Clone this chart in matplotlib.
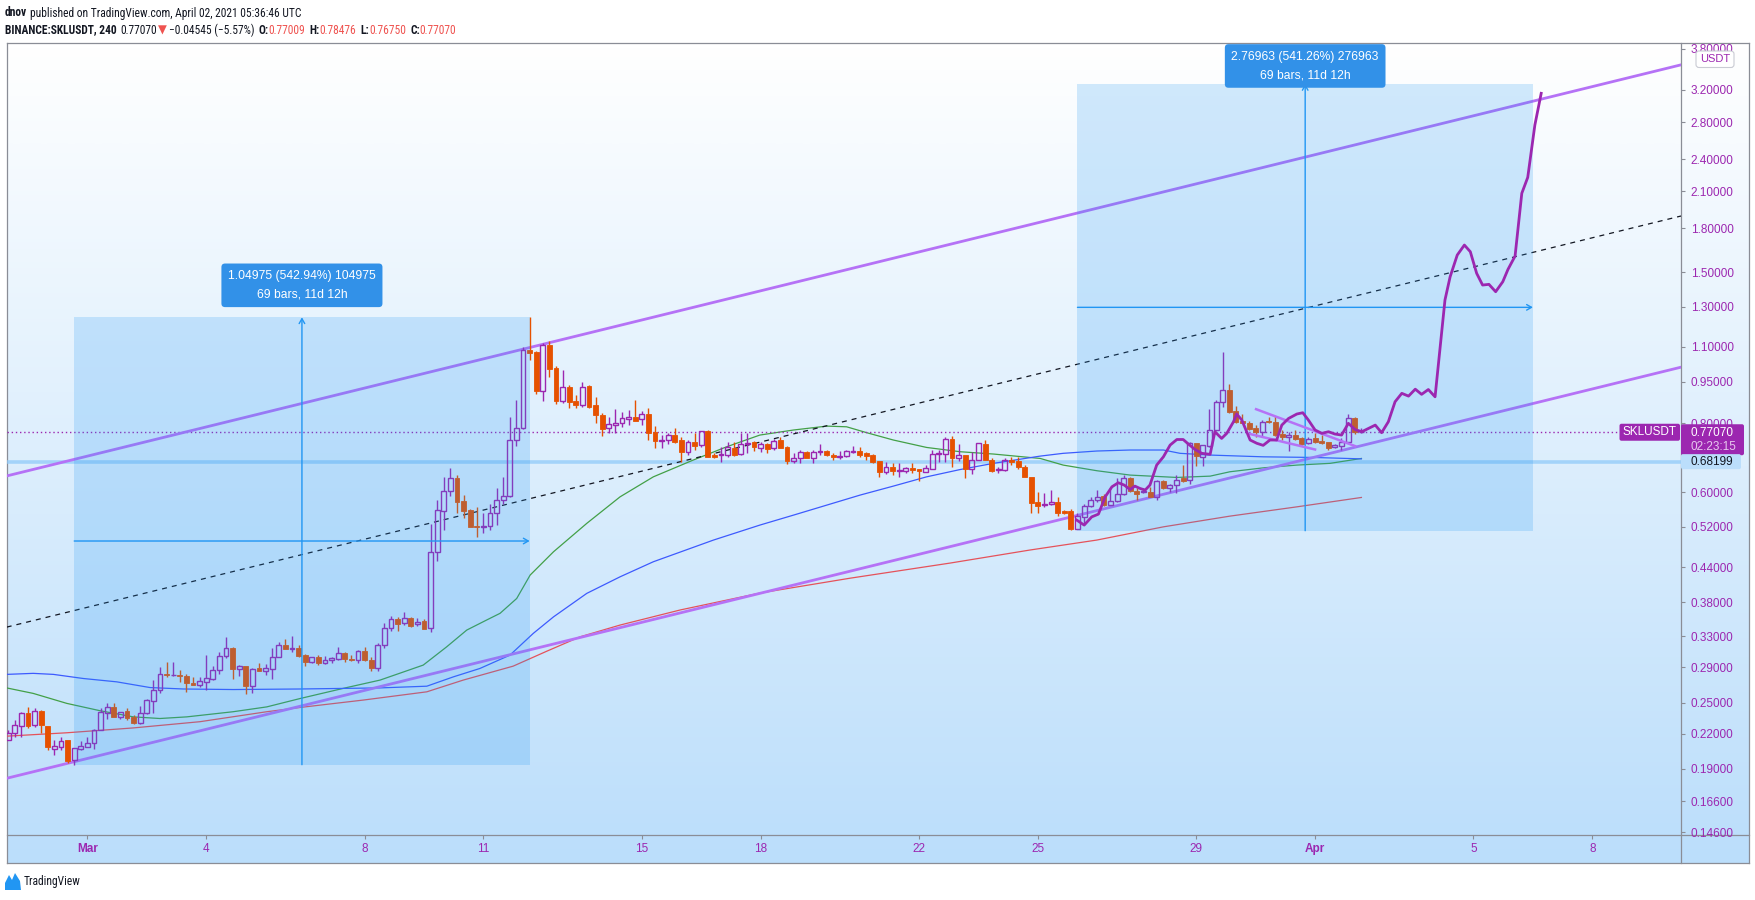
import matplotlib
matplotlib.use("Agg")
import matplotlib.pyplot as plt
import numpy as np
import pandas as pd
from matplotlib import font_manager as fm
from matplotlib.patches import Rectangle, FancyBboxPatch, Polygon
from matplotlib.colors import LinearSegmentedColormap
from matplotlib.ticker import NullLocator

plt.rcParams['font.family'] = ['Liberation Sans', 'DejaVu Sans']

W, H = 1756, 900

# 4h candles BINANCE:SKLUSDT, first bar 2021-02-27 00:00 UTC
opens = [
    .2147, .2208, .2273, .2394, .2277, .2414, .2270, .2068, .2077, .2142,
    .1975, .2064, .2082, .2113, .2238, .2394, .2453, .2359, .2414, .2359,
    .2296, .2400, .2523, .2643, .2818, .2803, .2812, .2794, .2720, .2693,
    .2725, .2760, .2866, .3035, .3140, .2878, .2913, .2684, .2885, .2858,
    .2880, .3030, .3179, .3129, .3148, .3045, .2967, .3025, .2947, .2994,
    .3003, .3075, .3005, .2985, .3102, .2994, .2892, .3175, .3407, .3541,
    .3481, .3561, .3466, .3514, .3407, .4688, .5565, .6042, .6359, .5789,
    .5576, .5220, .5200, .5210, .5500, .5825, .5905, .7462, .7829, 1.0873,
    1.0773, .9160, 1.1076, 1.0075, .8787, .9286, .8760, .8640, .9335, .8630,
    .8268, .7829, .7930, .7998, .8148, .8197, .8127, .8303, .7704, .7440,
    .7462, .7617, .7462, .7107, .7390, .7316, .7756, .7009, .7000, .7009,
    .7225, .7030, .7328, .7409, .7205, .7338, .7205, .7462, .7254, .6838,
    .6911, .7099, .6929, .7089, .7128, .7009, .6940, .6970, .7089, .7128,
    .7060, .7009, .6846, .6540, .6657, .6567, .6550, .6629, .6609, .6540,
    .6620, .7030, .7030, .7478, .6929, .7009, .6617, .6881, .7338, .6881,
    .6586, .6586, .6881, .6846, .6657, .6402, .5757, .5684, .5716, .5757,
    .5553, .5553, .5164, .5420, .5668, .5813, .5917, .5692, .5789, .5959,
    .6359, .6042, .6002, .6017, .5891, .6292, .6100, .6179, .6359, .6318,
    .7360, .6958, .7276, .7795, .8750, .9206, .8429, .8085, .7998, .7829,
    .7704, .8085, .8051, .7640, .7562, .7617, .7520, .7360, .7511, .7440,
    .7409, .7235, .7276, .7409, .8162, .77009]
highs = [
    .2238, .2333, .2405, .2453, .2446, .2427, .2275, .2147, .2171, .2147,
    .2075, .2136, .2171, .2242, .2443, .2502, .2495, .2408, .2443, .2377,
    .2467, .2540, .2749, .2897, .2967, .2967, .2866, .2818, .2779, .2779,
    .3050, .2917, .3093, .3291, .3150, .2926, .2918, .2885, .2947, .2938,
    .3148, .3224, .3268, .3300, .3179, .3063, .3024, .3050, .3037, .3028,
    .3156, .3093, .3050, .3115, .3156, .3020, .3211, .3481, .3587, .3567,
    .3644, .3576, .3552, .3537, .5260, .5825, .6386, .6629, .6449, .5934,
    .5612, .5636, .5500, .5716, .6100, .6402, .8218, .8813, 1.0967, 1.2431,
    1.0790, 1.1156, 1.1278, 1.0148, .9984, .9378, .8996, .9509, .9378, .8931,
    .8338, .8218, .8472, .8394, .8454, .8813, .8418, .8509, .7906, .7617,
    .7692, .7829, .7543, .7462, .7692, .7745, .7779, .7078, .7235, .7390,
    .7390, .7692, .7672, .7430, .7400, .7360, .7478, .7562, .7276, .7078,
    .7158, .7137, .7158, .7338, .7158, .7060, .7137, .7173, .7276, .7254,
    .7089, .7039, .6850, .6817, .6789, .6789, .6675, .6772, .6615, .6723,
    .7173, .7173, .7543, .7585, .7338, .7015, .7107, .7365, .7462, .6911,
    .6657, .6911, .6958, .6958, .6723, .6405, .6017, .5992, .6060, .5876,
    .5588, .5612, .5500, .5716, .5876, .6060, .5959, .6100, .6359, .6449,
    .6386, .6100, .6100, .6142, .6331, .6318, .6212, .6449, .6723, .7409,
    .7365, .7310, .8472, .8813, 1.0773, .9418, .8593, .8314, .8085, .7940,
    .8109, .8197, .8243, .7795, .7724, .7779, .7543, .7562, .7692, .7617,
    .7412, .7338, .7511, .8314, .8197, .78476]
lows = [
    .2142, .2171, .2165, .2253, .2263, .2202, .2059, .2012, .2055, .1949,
    .1933, .2055, .2077, .2064, .2233, .2343, .2353, .2343, .2333, .2289,
    .2289, .2387, .2400, .2601, .2779, .2795, .2729, .2618, .2688, .2672,
    .2643, .2745, .2818, .3008, .2767, .2794, .2593, .2607, .2855, .2806,
    .2767, .3025, .3122, .3093, .3024, .2913, .2955, .2926, .2945, .2947,
    .2988, .2967, .2972, .2947, .2979, .2858, .2858, .3135, .3375, .3375,
    .3456, .3431, .3445, .3393, .3361, .4516, .5142, .5909, .5514, .5384,
    .5192, .4988, .5061, .5142, .5238, .5716, .5895, .7276, .7820, 1.0408,
    .9034, .8787, .9705, .8667, .8714, .8509, .8518, .8567, .8509, .8018,
    .7585, .7672, .7692, .7883, .7940, .8080, .7940, .7462, .7205, .7205,
    .7338, .7378, .6800, .7009, .7173, .7254, .6950, .6930, .6817, .6958,
    .6985, .7005, .7060, .7137, .7107, .7078, .7173, .7205, .6752, .6795,
    .6795, .6911, .6795, .7018, .6989, .6866, .6885, .6940, .7060, .6958,
    .6866, .6795, .6386, .6477, .6449, .6402, .6496, .6496, .6300, .6535,
    .6605, .6820, .6817, .6675, .6838, .6359, .6468, .6866, .6866, .6540,
    .6514, .6567, .6723, .6605, .6386, .5500, .5500, .5651, .5692, .5437,
    .5483, .5142, .5160, .5289, .5651, .5772, .5668, .5690, .5772, .5934,
    .6017, .5825, .5979, .5876, .5813, .6090, .6017, .5992, .6274, .6212,
    .6694, .6694, .7254, .7779, .8567, .8359, .8018, .7995, .7779, .7562,
    .7562, .7998, .7585, .7462, .7137, .7462, .7307, .7338, .7378, .7338,
    .7173, .7205, .7173, .7378, .7650, .76750]
closes = [
    .2208, .2280, .2400, .2270, .2414, .2277, .2077, .2088, .2136, .1965,
    .2071, .2088, .2115, .2238, .2404, .2453, .2359, .2404, .2349, .2302,
    .2400, .2535, .2643, .2815, .2803, .2812, .2794, .2718, .2692, .2738,
    .2771, .2866, .3037, .3135, .2876, .2913, .2684, .2880, .2858, .2885,
    .3020, .3179, .3126, .3148, .3037, .2967, .3020, .2955, .2988, .3011,
    .3072, .3003, .2988, .3102, .2994, .2888, .3179, .3407, .3537, .3470,
    .3552, .3445, .3504, .3401, .4688, .5576, .6042, .6359, .5772, .5560,
    .5200, .5192, .5215, .5500, .5825, .5909, .7462, .7829, 1.0873, 1.0728,
    .9160, 1.1076, 1.0019, .8787, .9286, .8750, .8640, .9310, .8545, .8268,
    .7815, .7964, .7998, .8162, .8197, .8085, .8303, .7692, .7440, .7462,
    .7617, .7409, .7107, .7409, .7285, .7737, .6958, .6940, .7048, .7235,
    .7009, .7328, .7360, .7235, .7328, .7195, .7440, .7225, .6846, .6929,
    .7099, .6929, .7099, .7118, .7009, .6940, .6979, .7118, .7128, .7009,
    .6989, .6817, .6531, .6657, .6567, .6586, .6637, .6578, .6559, .6629,
    .7039, .7060, .7478, .6929, .7009, .6617, .6881, .7360, .6881, .6567,
    .6620, .6866, .6817, .6657, .6402, .5748, .5675, .5716, .5757, .5514,
    .5514, .5164, .5437, .5675, .5825, .5891, .5692, .5789, .5959, .6359,
    .6042, .5959, .6042, .5891, .6300, .6116, .6179, .6331, .6300, .7360,
    .6989, .7307, .7795, .8750, .9206, .8384, .8051, .7998, .7815, .7704,
    .8031, .8031, .7617, .7562, .7617, .7488, .7338, .7478, .7409, .7378,
    .7205, .7298, .7409, .8162, .7701, .77070]

# moving averages, sampled (days since 2021-03-01 00:00 UTC)
ma_green_days = [-2.04, -1.37, -0.52, 0.32, 1.16, 1.83, 2.51, 3.68, 4.53, 5.37, 6.55, 7.39,
                 8.48, 9.07, 9.58, 10.08, 10.42, 10.84, 11.18, 11.77, 12.61, 13.45, 14.29,
                 15.30, 16.14, 16.98, 17.83, 18.67, 19.17, 19.68, 20.35, 21.19, 22.04,
                 22.88, 24.06, 24.64, 25.49, 26.33, 27.51, 28.35, 28.85, 29.69, 30.54,
                 31.38, 32.17]
ma_green = [.2661, .2601, .2495, .2420, .2359, .2343, .2359, .2410, .2459, .2546, .2665,
            .2749, .2926, .3156, .3385, .3529, .3629, .3860, .4255, .4688, .5276, .5891,
            .6402, .6866, .7254, .7617, .7779, .7906, .7884, .7692, .7462, .7235, .7107,
            .7039, .6911, .6723, .6567, .6449, .6386, .6421, .6539, .6646, .6723, .6772,
            .6911]
ma_blue_days = [-2.04, -1.37, -0.86, -0.10, 0.74, 1.58, 2.42, 3.68, 5.37, 7.39, 8.57, 9.24,
                9.91, 10.67, 11.26, 11.77, 12.61, 13.45, 14.29, 15.81, 16.98, 17.83, 18.67,
                19.51, 20.35, 21.19, 22.04, 22.88, 24.06, 24.64, 25.49, 26.33, 27.17, 27.59,
                28.35, 29.69, 30.96, 32.17]
ma_blue = [.2815, .2827, .2815, .2767, .2729, .2665, .2649, .2643, .2649, .2661, .2680,
           .2786, .2885, .3050, .3339, .3576, .3943, .4224, .4497, .4922, .5238, .5460,
           .5692, .5934, .6160, .6402, .6600, .6772, .6979, .7060, .7128, .7158, .7158,
           .7060, .7009, .6958, .6940, .6899]
ma_red_days = [-2.04, -0.52, 1.16, 2.84, 4.53, 5.37, 6.97, 8.57, 9.49, 10.75, 11.6, 12.44,
               13.45, 14.97, 16.98, 19.26, 21.78, 23.80, 25.49, 27.17, 28.85, 30.54, 32.17]
ma_red = [.2177, .2208, .2253, .2312, .2410, .2453, .2530, .2618, .2749, .2913, .3100,
          .3291, .3456, .3680, .3948, .4200, .4472, .4722, .4922, .5200, .5437, .5651, .5876]

# projected path (bars pattern)
path_days = [24.98, 25.17, 25.36, 25.53, 25.70, 25.87, 26.03, 26.18, 26.33, 26.45, 26.58,
             26.71, 26.83, 27.00, 27.17, 27.34, 27.51, 27.67, 27.80, 27.97, 28.14, 28.35,
             28.47, 28.64, 28.77, 28.94, 29.02, 29.15, 29.36, 29.53, 29.69, 29.86, 30.03,
             30.16, 30.33, 30.54, 30.69, 30.83, 31.00, 31.17, 31.34, 31.50, 31.67, 31.84,
             32.01, 32.18, 32.52, 32.68, 32.85, 33.02, 33.19, 33.36, 33.53, 33.69, 33.86,
             34.03, 34.28, 34.41, 34.59, 34.77, 34.92, 35.08, 35.23, 35.39, 35.56, 35.74,
             35.87, 36.05, 36.22, 36.37, 36.55, 36.71]
path_prices = [.5349, .5238, .5420, .5483, .5891, .6142, .6247, .6187, .6073, .6160, .6100,
               .6060, .6187, .6723, .6958, .7307, .7478, .7478, .7338, .7173, .7060, .7030,
               .7724, .7511, .7672, .8051, .8314, .8109, .7462, .7360, .7298, .7462, .7462,
               .7940, .8162, .8314, .8359, .8109, .7779, .7672, .7724, .7650, .7617, .7998,
               .7795, .7724, .7940, .7692, .8051, .8750, .9061, .8957, .9219, .9023, .9206,
               .8931, 1.3359, 1.4713, 1.6106, 1.6790, 1.6331, 1.4928, 1.4216, 1.4258, 1.3828,
               1.4415, 1.5167, 1.6037, 2.0824, 2.2247, 2.7664, 3.156]

# channel anchors (day, price)
channel_upper = [(-2.0, 0.6436), (32.0, 2.546)]
channel_lower = [(-2.0, 0.1830), (32.0, 0.7239)]
channel_mid = [(-2.0, 0.3432), (32.0, 1.3576)]
wedge_upper_days, wedge_upper = [29.51, 32.01], [.8483, .7276]
wedge_lower_days, wedge_lower = [29.36, 31.00], [.7650, .7173]

# date & price ranges
range_start = [-0.333, 25.0]
range_end = [11.167, 36.5]
range_low = [0.19334, 0.51170]
range_high = [1.24309, 3.28133]
range_text = ["1.04975 (542.94%) 104975\n69 bars, 11d 12h",
              "2.76963 (541.26%) 276963\n69 bars, 11d 12h"]

last_price = 0.77070
level_price = 0.68199

price_ticks = [3.8, 3.2, 2.8, 2.4, 2.1, 1.8, 1.5, 1.3, 1.1, 0.95, 0.80, 0.60, 0.52, 0.44,
               0.38, 0.33, 0.29, 0.25, 0.22, 0.19, 0.166, 0.146]
date_ticks = [0, 3, 7, 10, 14, 17, 21, 24, 28, 31, 35, 38]
date_labels = ['Mar', '4', '8', '11', '15', '18', '22', '25', '29', 'Apr', '5', '8']

UP = '#9c27b0'
DOWN = '#e65100'
CHAN = '#b572f6'
DARK = '#131722'
RED = '#ef5350'
BLUE = '#2196f3'
FRAME = '#8a8d96'

bar_times = pd.date_range('2021-02-27 00:00', periods=len(opens), freq='4h')
bar_days = ((bar_times - pd.Timestamp('2021-03-01')) / pd.Timedelta(days=1)).values


def narrow_font():
    # a condensed sans face for the header, if one is installed
    wanted = ['Liberation Sans Narrow', 'Roboto Condensed', 'DejaVu Sans', 'Open Sans',
              'Noto Sans', 'Lato', 'Inter']
    found = {}
    for f in fm.fontManager.ttflist:
        if 'ondensed' in f.name or 'Narrow' in f.name:
            found.setdefault(f.name, 'normal')
        elif str(f.stretch) in ('condensed', 'semi-condensed', 'extra-condensed'):
            found.setdefault(f.name, str(f.stretch))
    for name in wanted:
        if name in found:
            return name, found[name]
    return 'Liberation Sans', 'normal'


HEAD_NAME, HEAD_STRETCH = narrow_font()
HEAD = [HEAD_NAME, 'DejaVu Sans']

fig = plt.figure(figsize=(W / 100, H / 100), dpi=100)
fig.patch.set_facecolor('white')

# background gradient + frame
bg = fig.add_axes([0, 0, 1, 1], zorder=0)
cmap = LinearSegmentedColormap.from_list('tvbg', ['#ffffff', '#bbdefb'])
bg.imshow(np.linspace(0, 1, 256).reshape(-1, 1), cmap=cmap, aspect='auto',
          extent=[6.7, 1749, 863.3, 43.3], interpolation='bilinear')
bg.set_xlim(0, W)
bg.set_ylim(H, 0)
bg.axis('off')
for xs, ys in [([6.7, 1749], [43.3, 43.3]), ([6.7, 1749], [863.3, 863.3]),
               ([6.7, 6.7], [43.3, 863.3]), ([1749, 1749], [43.3, 863.3]),
               ([1681, 1681], [43.3, 863.3]), ([6.7, 1749], [835, 835])]:
    bg.plot(xs, ys, color=FRAME, lw=0.9)

ax = fig.add_axes([6.7 / W, (H - 835) / H, (1681 - 6.7) / W, (835 - 43.3) / H], zorder=1)
ax.patch.set_alpha(0)
ax.set_yscale('log')
ax.set_xlim(-2.038, 40.24)
ax.set_ylim(0.14432, 3.886)
for s in ax.spines.values():
    s.set_visible(False)

# moving averages
ax.plot(ma_green_days, ma_green, color='#43a047', lw=0.9, zorder=2)
ax.plot(ma_blue_days, ma_blue, color='#3d5afe', lw=0.9, zorder=2)
ax.plot(ma_red_days, ma_red, color='#e5525a', lw=0.9, zorder=2)

# horizontal levels
ax.axhline(level_price, color='#90caf9', lw=2.6, alpha=0.75, zorder=1.5)
ax.axhline(last_price, color=UP, lw=1.0, ls=(0, (1, 2)), zorder=2)

# channel
ax.axline(*channel_upper, color=CHAN, lw=2.0, zorder=2.5)
ax.axline(*channel_lower, color=CHAN, lw=2.0, zorder=2.5)
ax.axline(*channel_mid, color=DARK, lw=0.9, ls=(0, (4, 4)), zorder=2.5)

# candles
o = np.array(opens); h = np.array(highs); l = np.array(lows); c = np.array(closes)
up = c >= o
top = np.maximum(o, c)
bot = np.minimum(o, c)
bw = 0.74 / 6
for mask, col in [(up, UP), (~up, DOWN)]:
    ax.vlines(bar_days[mask], top[mask], h[mask], color=col, lw=1.0, zorder=3)
    ax.vlines(bar_days[mask], l[mask], bot[mask], color=col, lw=1.0, zorder=3)
for t, b, tp, is_up in zip(bar_days, bot, top, up):
    if is_up:
        ax.add_patch(Rectangle((t - bw / 2, b), bw, tp - b, fc='none', ec=UP, lw=1.0, zorder=3))
    else:
        ax.add_patch(Rectangle((t - bw / 2, b), bw, tp - b, fc=DOWN, ec=DOWN, lw=0.6, zorder=3))

# date & price range boxes
label_offsets = [32, 18]
for t0, t1, lo, hi, txt, off in zip(range_start, range_end, range_low, range_high,
                                    range_text, label_offsets):
    ax.add_patch(Rectangle((t0, lo), t1 - t0, hi - lo, fc=BLUE, alpha=0.2, ec='none', zorder=4))
    tm = (t0 + t1) / 2
    pm = np.sqrt(lo * hi)
    ax.annotate('', xy=(tm, hi), xytext=(tm, lo), zorder=4.5,
                arrowprops=dict(arrowstyle='->,head_length=0.35,head_width=0.2',
                                color=BLUE, lw=1, shrinkA=0, shrinkB=0))
    ax.annotate('', xy=(t1, pm), xytext=(t0, pm), zorder=4.5,
                arrowprops=dict(arrowstyle='->,head_length=0.35,head_width=0.2',
                                color=BLUE, lw=1, shrinkA=0, shrinkB=0))
    ax.annotate(txt, xy=(tm, hi), xytext=(0, off), textcoords='offset pixels',
                ha='center', va='center', color='white', fontsize=8.7, linespacing=1.7,
                zorder=8, annotation_clip=False,
                bbox=dict(boxstyle='round,pad=0.55,rounding_size=0.3', fc='#3291e8', ec='none'))

# wedge + projection
ax.plot(wedge_upper_days, wedge_upper, color=CHAN, lw=1.8, zorder=5)
ax.plot(wedge_lower_days, wedge_lower, color=CHAN, lw=1.8, zorder=5)
ax.plot(path_days, path_prices, color=UP, lw=2.0, zorder=6, solid_joinstyle='round')

# axes ticks
ax.yaxis.tick_right()
ax.set_yticks(price_ticks)
ax.set_yticklabels([f"{v:.5f}" for v in price_ticks])
ax.yaxis.set_minor_locator(NullLocator())
ax.tick_params(axis='y', which='major', direction='out', length=3, width=0.8,
               color=FRAME, labelcolor=UP, labelsize=8.5, pad=4)
ax.set_xticks(date_ticks)
ax.set_xticklabels(date_labels)
ax.tick_params(axis='x', direction='out', length=3, width=0.8, color=FRAME,
               labelcolor=UP, labelsize=8.5, pad=3)
for lab in ax.get_xticklabels():
    if lab.get_text() in ('Mar', 'Apr'):
        lab.set_fontweight('bold')

# overlay for price labels, header, footer
ov = fig.add_axes([0, 0, 1, 1], zorder=3)
ov.set_xlim(0, W)
ov.set_ylim(H, 0)
ov.axis('off')


def price_px(p):
    return H - ax.transData.transform((0, p))[1]


py = price_px(last_price)
ov.add_patch(FancyBboxPatch((1619.5, py - 8.5), 60.5, 17, boxstyle='round,pad=0,rounding_size=2',
                            fc=UP, ec='none'))
ov.text(1649.7, py, 'SKLUSDT', color='white', fontsize=8.5, ha='center', va='center')
ov.add_patch(FancyBboxPatch((1681, py - 8), 63, 31, boxstyle='round,pad=0,rounding_size=2',
                            fc=UP, ec='none'))
ov.text(1691, py + 0.5, f"{last_price:.5f}", color='white', fontsize=8.5, va='center')
ov.text(1691, py + 14.5, '02:23:15', color='#e7c9ee', fontsize=8.5, va='center')

py2 = price_px(level_price)
ov.add_patch(FancyBboxPatch((1681, py2 - 7.5), 60, 15, boxstyle='round,pad=0,rounding_size=2',
                            fc='#bbdefb', ec='none'))
ov.text(1691, py2, f"{level_price:.5f}", color=DARK, fontsize=8.5, va='center')

ov.add_patch(FancyBboxPatch((1696, 51), 38, 16.5, boxstyle='round,pad=0,rounding_size=3',
                            fc='white', ec='#c9cbd3', lw=0.8))
ov.text(1715, 59.5, 'USDT', color=UP, fontsize=8, ha='center', va='center')

# header
renderer = fig.canvas.get_renderer()
HEAD_SIZE = 8.3
line1 = [('dnov', DARK, 'bold', 3),
         ('published on TradingView.com, April 02, 2021 05:36:46 UTC', DARK, 'normal', 0)]
line2 = [('BINANCE:SKLUSDT, 240', DARK, 'bold', 4),
         ('0.77070', DARK, 'normal', 1),
         ('\u25bc', RED, 'normal', 2),
         ('\u22120.04545 (\u22125.57%)', DARK, 'normal', 4),
         ('O:', DARK, 'bold', 0), ('0.77009', RED, 'normal', 4),
         ('H:', DARK, 'bold', 0), ('0.78476', RED, 'normal', 4),
         ('L:', DARK, 'bold', 0), ('0.76750', RED, 'normal', 4),
         ('C:', DARK, 'bold', 0), ('0.77070', RED, 'normal', 0)]


def write_run(x, y, parts, size):
    for s, color, weight, gap in parts:
        t = ov.text(x, y, s, color=color, fontweight=weight, fontsize=size,
                    family=HEAD, fontstretch=HEAD_STRETCH, va='center', ha='left')
        x += t.get_window_extent(renderer=renderer).width + gap
    return x


write_run(5, 13, line1, HEAD_SIZE)
write_run(5, 30, line2, HEAD_SIZE)

# footer logo
ov.add_patch(Polygon([(5, 890), (5, 883), (9, 875), (12, 880), (15, 873), (20, 881), (21, 890)],
                     closed=True, fc='#2196f3', ec='none'))
ov.text(24, 882, 'TradingView', color=DARK, fontsize=HEAD_SIZE, family=HEAD,
        fontstretch=HEAD_STRETCH, va='center')

fig.savefig('out.png', dpi=100)
